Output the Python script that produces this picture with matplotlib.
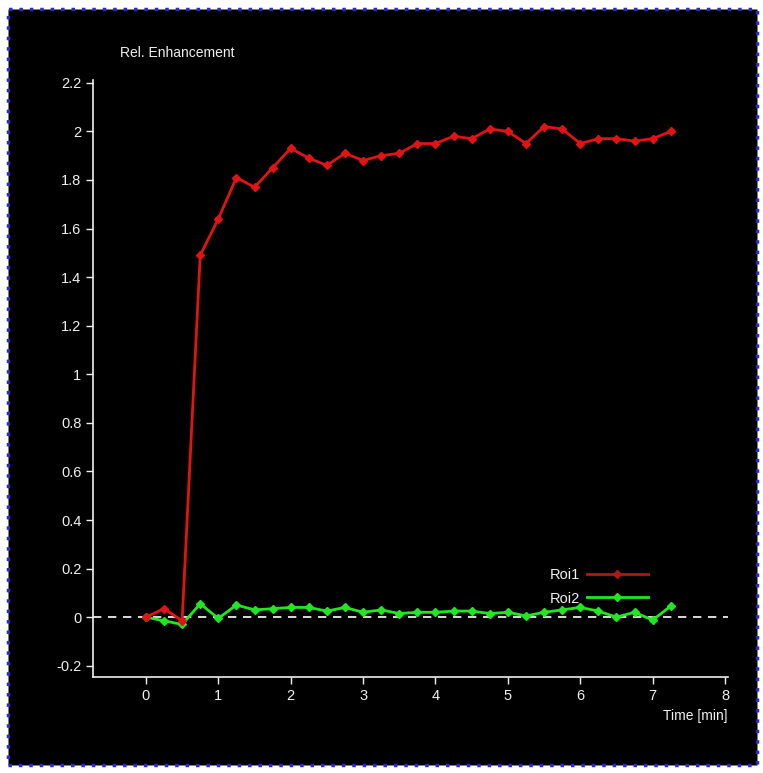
"""
Rel. Enhancement 곡선 (Roi1/Roi2) 재현 — 검은 배경, 파란 점선 테두리.
산출: out.png
"""
import matplotlib
matplotlib.use("Agg")
import matplotlib.pyplot as plt
from matplotlib.patches import Rectangle

plt.rcParams["font.family"] = ["Liberation Sans", "DejaVu Sans"]

# ---- 데이터 ----
time_min = [0, 0.25, 0.5, 0.75, 1.0, 1.25, 1.5, 1.75, 2.0, 2.25, 2.5, 2.75, 3.0, 3.25, 3.5,
            3.75, 4.0, 4.25, 4.5, 4.75, 5.0, 5.25, 5.5, 5.75, 6.0, 6.25, 6.5, 6.75, 7.0, 7.25]
roi1 = [0.0, 0.035, -0.015, 1.49, 1.64, 1.81, 1.77, 1.85, 1.93, 1.89, 1.86, 1.91, 1.88, 1.90, 1.91,
        1.95, 1.95, 1.98, 1.97, 2.01, 2.00, 1.95, 2.02, 2.01, 1.95, 1.97, 1.97, 1.96, 1.97, 2.00]
roi2 = [0.0, -0.015, -0.03, 0.055, -0.005, 0.05, 0.03, 0.035, 0.04, 0.04, 0.025, 0.04, 0.02, 0.03, 0.015,
        0.02, 0.02, 0.025, 0.025, 0.015, 0.02, 0.005, 0.02, 0.03, 0.04, 0.025, 0.0, 0.02, -0.012, 0.045]
x_ticks = [0, 1, 2, 3, 4, 5, 6, 7, 8]
y_ticks = [-0.2, 0, 0.2, 0.4, 0.6, 0.8, 1, 1.2, 1.4, 1.6, 1.8, 2, 2.2]

C_RED, C_GREEN = "#e01414", "#22e622"
FG = "#f0f0f0"
FS = 10

fig = plt.figure(figsize=(7.63, 7.73), dpi=100, facecolor="white")
# 검은 판 + 파란 점선 테두리 (axes 뒤에)
fig.patches.append(Rectangle((0.011, 0.010), 0.981, 0.978, transform=fig.transFigure,
                             facecolor="black", edgecolor="#2a2ad0", linewidth=2.5,
                             linestyle=(0, (1, 2)), zorder=-5))

ax = fig.add_axes([0.122, 0.124, 0.832, 0.772])
ax.set_zorder(2)
ax.set_facecolor("none")
ax.axhline(0, color="white", ls=(0, (5, 4)), lw=1.2, zorder=1)
ax.plot(time_min, roi1, color=C_RED, marker="D", ms=4.5, lw=2, label="Roi1", zorder=3)
ax.plot(time_min, roi2, color=C_GREEN, marker="D", ms=4.5, lw=2, label="Roi2", zorder=2)

ax.set_xlim(-0.73, 8.04)
ax.set_ylim(-0.247, 2.21)
ax.set_xticks(x_ticks)
ax.set_xticklabels([str(t) for t in x_ticks])
ax.set_yticks(y_ticks)
ax.set_yticklabels([f"{v:g}" for v in y_ticks])
for s in ("top", "right"):
    ax.spines[s].set_visible(False)
for s in ("left", "bottom"):
    ax.spines[s].set_color(FG)
    ax.spines[s].set_linewidth(1.2)
ax.tick_params(colors=FG, labelcolor=FG, labelsize=FS + 0.5, length=5, width=1)

fig.text(0.157, 0.931, "Rel. Enhancement", color=FG, fontsize=FS, ha="left", va="center")
fig.text(0.954, 0.074, "Time [min]", color=FG, fontsize=FS, ha="right", va="center")

leg = ax.legend(loc="lower right", bbox_to_anchor=(0.895, 0.098), frameon=False, fontsize=FS + 0.5,
                markerfirst=False, handlelength=4.2, labelspacing=0.65, handletextpad=0.5)
for t in leg.get_texts():
    t.set_color(FG)
leg.get_lines()[0].set_color("#b01818")

fig.savefig("out.png", dpi=100, facecolor=fig.get_facecolor())
